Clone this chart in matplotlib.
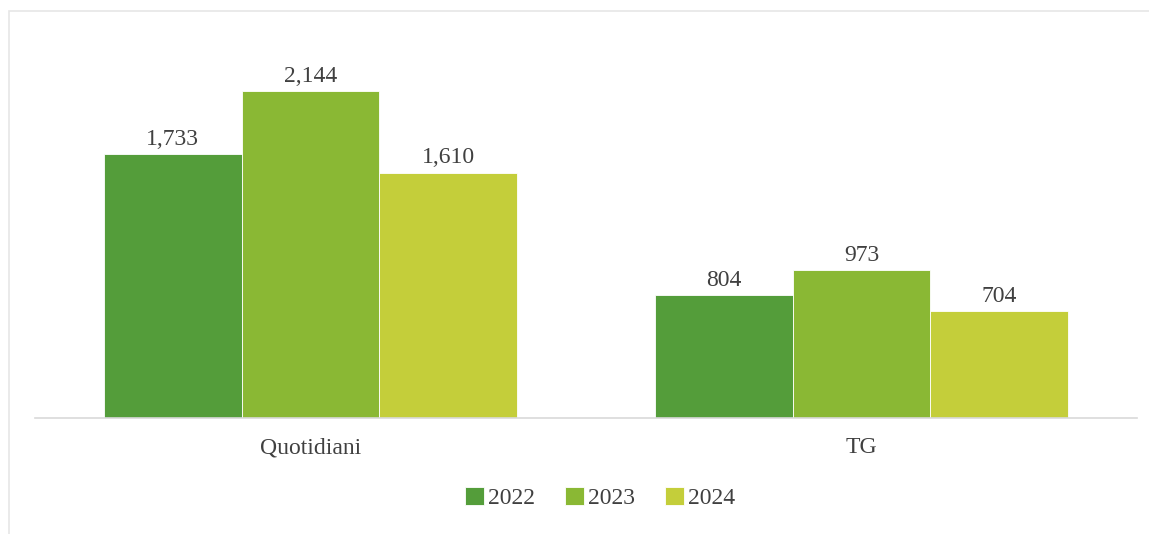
import numpy as np
import matplotlib.pyplot as plt
from matplotlib.patches import Rectangle

categories = ['Quotidiani', 'TG']
years = ['2022', '2023', '2024']
values_2022 = [1733, 804]
values_2023 = [2144, 973]
values_2024 = [1610, 704]

colors = ['#549D3A', '#8AB834', '#C4CE3A']
text_color = '#404040'

plt.rcParams['font.family'] = ['Liberation Serif', 'DejaVu Serif']

fig = plt.figure(figsize=(11.49, 5.34), dpi=100)
ax = fig.add_axes([35 / 1149, 116 / 534, 1102 / 1149, 381 / 534])

x = np.arange(len(categories))
width = 0.25
series = [values_2022, values_2023, values_2024]
for i, (vals, year) in enumerate(zip(series, years)):
    bars = ax.bar(x + (i - 1) * width, vals, width, color=colors[i],
                  label=year, edgecolor='white', linewidth=0.6)
    ax.bar_label(bars, labels=[f'{v:,}' for v in vals], padding=3,
                 fontsize=17, color=text_color)

ax.set_xlim(-0.5, 1.5)
ax.set_ylim(0, 2500)
ax.set_xticks(x)
ax.set_xticklabels(categories, fontsize=17, color=text_color)
ax.tick_params(axis='x', length=0, pad=14)
ax.set_yticks([])
for s in ['top', 'right', 'left']:
    ax.spines[s].set_visible(False)
ax.spines['bottom'].set_color('#D9D9D9')
ax.spines['bottom'].set_linewidth(1.2)

fig.legend(loc='center', bbox_to_anchor=(600 / 1149, 1 - 498 / 534), ncol=3,
           frameon=False, fontsize=17, handlelength=0.8, handleheight=0.8,
           handletextpad=0.15, columnspacing=1.3, labelcolor=text_color)

# thin outer frame of the chart area
fig.patches.append(Rectangle((9 / 1149, -0.1), 1.2, 1 - 11 / 534 + 0.1,
                             transform=fig.transFigure, fill=False,
                             edgecolor='#E6E6E6', linewidth=1.2))

fig.savefig('out.png', dpi=100)
